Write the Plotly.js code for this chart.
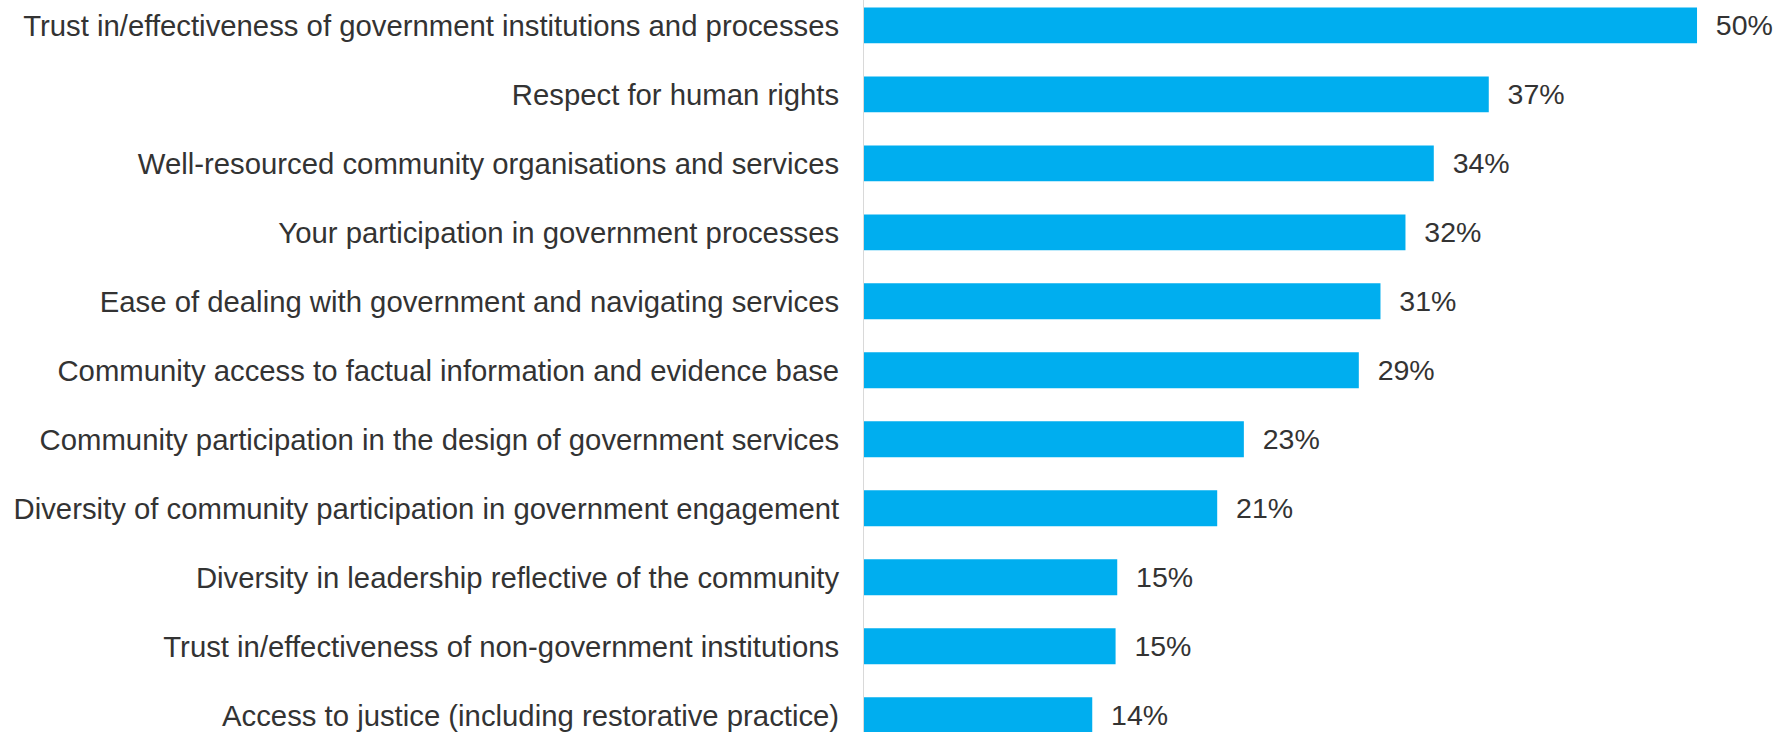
<!DOCTYPE html>
<html>
<head>
<meta charset="utf-8">
<script src="https://cdn.plot.ly/plotly-3.0.1.min.js"></script>
<style>html,body{margin:0;padding:0;background:#fff;}#chart{width:1787px;height:732px;}</style>
</head>
<body>
<div id="chart"></div>
<script>
const categories = [
  "Trust in/effectiveness of government institutions and processes",
  "Respect for human rights",
  "Well-resourced community organisations and services",
  "Your participation in government processes",
  "Ease of dealing with government and navigating services",
  "Community access to factual information and evidence base",
  "Community participation in the design of government services",
  "Diversity of community participation in government engagement",
  "Diversity in leadership reflective of the community",
  "Trust in/effectiveness of non-government institutions",
  "Access to justice (including restorative practice)"
];
// bar lengths (percent)
const values = [50.0, 37.5, 34.2, 32.5, 31.0, 29.7, 22.8, 21.2, 15.2, 15.1, 13.7];
// value labels as printed on the chart
const valueLabels = ["50%", "37%", "34%", "32%", "31%", "29%", "23%", "21%", "15%", "15%", "14%"];

const textColor = "#333333";
const fontFamily = "Liberation Sans, Arial, sans-serif";

const trace = {
  type: "bar",
  orientation: "h",
  y: categories,
  x: values,
  text: valueLabels,
  width: 0.52,
  marker: {color: "#00AEEF", line: {width: 0}},
  texttemplate: "\u00a0\u00a0%{text}",
  textposition: "outside",
  textfont: {family: fontFamily, size: 28.5, color: textColor},
  cliponaxis: false,
  hoverinfo: "skip"
};

const layout = {
  width: 1787,
  height: 732,
  margin: {l: 864, r: 0, t: 0, b: 0, pad: 0},
  paper_bgcolor: "#ffffff",
  plot_bgcolor: "#ffffff",
  showlegend: false,
  font: {family: fontFamily, size: 28, color: textColor},
  xaxis: {range: [0, 55.4], visible: false, showgrid: false, zeroline: false, fixedrange: true},
  yaxis: {
    type: "category",
    range: [10.242, -0.367],
    showline: true,
    linecolor: "#d9d9d9",
    linewidth: 1,
    showgrid: false,
    zeroline: false,
    ticks: "",
    ticklabelstandoff: 18,
    automargin: false,
    tickfont: {family: fontFamily, size: 29.3, color: textColor}
  }
};

Plotly.newPlot("chart", [trace], layout, {staticPlot: true, displayModeBar: false});
</script>
</body>
</html>
